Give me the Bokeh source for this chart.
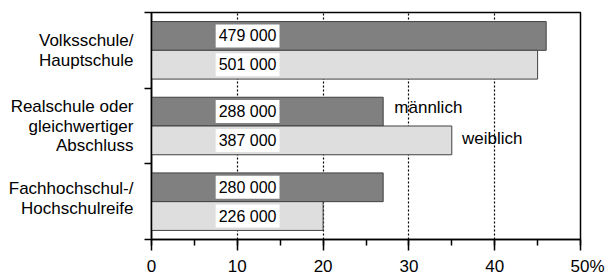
from bokeh.plotting import figure
from bokeh.models import Label, FixedTicker, SingleIntervalTicker, Range1d, ColumnDataSource
from bokeh.embed import file_html
from bokeh.resources import INLINE

# ---- data ----
categories = ["Volksschule/\nHauptschule",
              "Realschule oder\ngleichwertiger\nAbschluss",
              "Fachhochschul-/\nHochschulreife"]
male_pct = [46, 27, 27]
female_pct = [45, 35, 20]
male_count = ["479 000", "288 000", "280 000"]
female_count = ["501 000", "387 000", "226 000"]
x_ticks = [0, 10, 20, 30, 40, 50]
x_tick_labels = ["0", "10", "20", "30", "40", "50%"]
series_names = ["männlich", "weiblich"]

FONT = "Liberation Sans"
n = len(categories)
centers = [n - 0.5 - i for i in range(n)]
bar_h = 0.38
line_step = 0.262          # one text line, in y units
label_shift = [0.0, 0.0, 0.04]

p = figure(width=609, height=278, output_backend="svg", toolbar_location=None,
           x_range=Range1d(0, 50), y_range=Range1d(0, n),
           min_border_left=151, min_border_right=29, min_border_top=12, min_border_bottom=37)

p.outline_line_color = "black"
p.outline_line_width = 1.5
p.background_fill_color = "white"
p.border_fill_color = "white"

# grid
p.ygrid.grid_line_color = None
p.xgrid.ticker = FixedTicker(ticks=x_ticks[1:-1])
p.xgrid.grid_line_color = "black"
p.xgrid.grid_line_dash = "2 2"
p.xgrid.grid_line_width = 1.2

# bars
male_src = ColumnDataSource(dict(y=[c + bar_h / 2 for c in centers], right=male_pct))
fem_src = ColumnDataSource(dict(y=[c - bar_h / 2 for c in centers], right=female_pct))
p.hbar(y="y", right="right", left=0, height=bar_h, source=male_src,
       fill_color="#808080", line_color="#404040", line_width=1)
p.hbar(y="y", right="right", left=0, height=bar_h, source=fem_src,
       fill_color="#dedede", line_color="#404040", line_width=1)

# x axis
xa = p.xaxis[0]
xa.ticker = SingleIntervalTicker(interval=10, num_minor_ticks=2)
overrides = {}
for t, lab in zip(x_ticks, x_tick_labels):
    if lab.endswith("%"):
        # pad left so that the number stays centred on its tick
        lab = "\u2007\u2008" + lab
    overrides[t] = lab
xa.major_label_overrides = overrides
xa.axis_line_color = "black"
xa.axis_line_width = 1.5
xa.major_tick_line_color = "black"
xa.major_tick_line_width = 1.5
xa.minor_tick_line_color = "black"
xa.minor_tick_line_width = 1.5
xa.major_tick_in = 0
xa.major_tick_out = 11
xa.minor_tick_in = 0
xa.minor_tick_out = 6
xa.major_label_text_font = FONT
xa.major_label_text_font_size = "17px"
xa.major_label_text_color = "black"
xa.major_label_standoff = 6

# y axis: one label tick per text line, boundary ticks as minor ticks
line_ticks = []
line_labels = {}
for c, cat, sh in zip(centers, categories, label_shift):
    lines = cat.split("\n")
    k = len(lines)
    for j, ln in enumerate(lines):
        yy = round(c + sh + ((k - 1) / 2 - j) * line_step, 4)
        line_ticks.append(yy)
        line_labels[yy] = ln

ya = p.yaxis[0]
ya.ticker = FixedTicker(ticks=line_ticks, minor_ticks=list(range(n + 1)))
ya.major_label_overrides = line_labels
ya.axis_line_color = "black"
ya.axis_line_width = 1.5
ya.major_tick_line_color = None
ya.major_tick_in = 0
ya.major_tick_out = 0
ya.minor_tick_line_color = "black"
ya.minor_tick_line_width = 1.5
ya.minor_tick_in = 0
ya.minor_tick_out = 7
ya.major_label_text_font = FONT
ya.major_label_text_font_size = "17px"
ya.major_label_text_color = "black"
ya.major_label_standoff = 11

# count labels in white boxes
for c, m, f in zip(centers, male_count, female_count):
    for yy, t in ((c + bar_h / 2, m), (c - bar_h / 2, f)):
        p.add_layout(Label(x=11.2, y=yy, text=t, text_align="center",
                           text_baseline="middle", text_font=FONT,
                           text_font_size="16px", text_color="black",
                           background_fill_color="white", padding=3))

# series annotations
p.add_layout(Label(x=28.3, y=1.742, text=series_names[0], text_align="left",
                   text_baseline="middle", text_font=FONT, text_font_size="17px",
                   text_color="black"))
p.add_layout(Label(x=36.2, y=1.336, text=series_names[1], text_align="left",
                   text_baseline="middle", text_font=FONT, text_font_size="17px",
                   text_color="black"))

open("out.html", "w").write(file_html(p, INLINE))
